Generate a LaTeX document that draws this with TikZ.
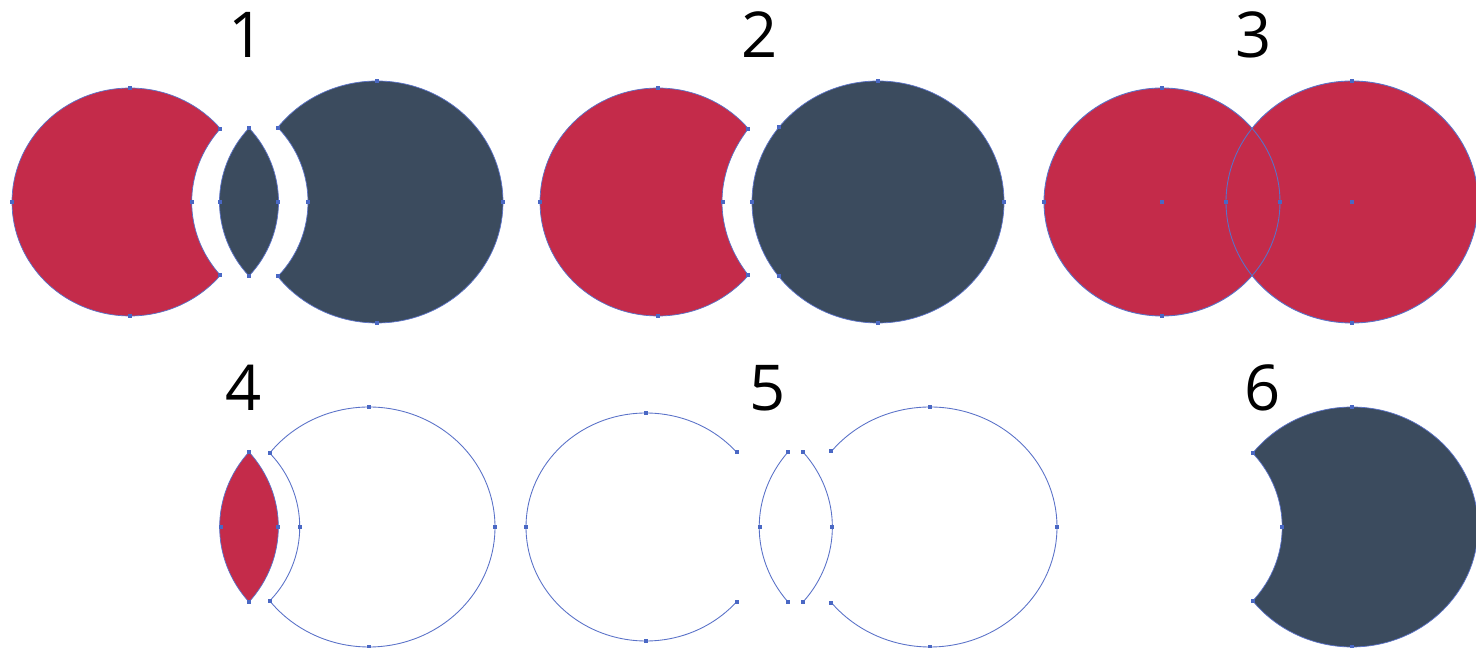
\documentclass[tikz,border=0pt]{standalone}
\usepackage{fontspec}
\newfontfamily\labelfont{Open Sans}
\usetikzlibrary{calc}
\definecolor{crimson}{HTML}{C42B4A}
\definecolor{slate}{HTML}{3B4B5E}
\definecolor{pathblue}{HTML}{5A72C8}
\definecolor{pointblue}{HTML}{4A68C4}
\tikzset{fillred/.style={fill=crimson,draw=pathblue,line width=0.4pt},filldark/.style={fill=slate,draw=pathblue,line width=0.4pt},outline/.style={draw=pathblue,line width=0.5pt},anchorpt/.style={fill=pointblue,inner sep=0pt,minimum size=2.3pt},numlabel/.style={font=\labelfont\fontsize{36}{36}\selectfont,inner sep=0pt}}

\begin{document}
\begin{tikzpicture}[x=0.02cm,y=0.02cm]
\useasboundingbox (0,0) rectangle (1476,648);
% step numbers
\node[numlabel] (n1) at (247,613) {1};
\node[numlabel] (n2) at (760,613) {2};
\node[numlabel] (n3) at (1254,613) {3};
\node[numlabel] (n4) at (244,260) {4};
\node[numlabel] (n5) at (768,260) {5};
\node[numlabel] (n6) at (1263,260) {6};
% 1: red crescent, lens, dark crescent
\coordinate (p1rt) at ($(130,446)+(40:118 and 114)$);
\coordinate (p1lt) at (249,520); \coordinate (p1lb) at (249,372);
\coordinate (p1dt) at ($(377,446)+(142:126 and 121)$);
\path[fillred] (p1rt) arc[start angle=40,end angle=320,x radius=118,y radius=114] to[bend left=42] (p1rt) -- cycle;
\path[filldark] (p1lt) to[bend right=43] (p1lb) to[bend right=43] (p1lt) -- cycle;
\path[filldark] (p1dt) arc[start angle=142,end angle=-142,x radius=126,y radius=121] to[bend right=44] (p1dt) -- cycle;
% 2: red crescent and full dark circle
\coordinate (p2rt) at ($(658,446)+(40:118 and 114)$);
\path[fillred] (p2rt) arc[start angle=40,end angle=320,x radius=118,y radius=114] to[bend left=38] (p2rt) -- cycle;
\path[filldark] (878,446) ellipse[x radius=126,y radius=121];
% 3: two red circles
\path[fill=crimson] (1162,446) ellipse[x radius=118,y radius=114] (1352,446) ellipse[x radius=126,y radius=121];
\draw[outline] (1162,446) ellipse[x radius=118,y radius=114] (1352,446) ellipse[x radius=126,y radius=121];
% 4: red lens and open crescent
\coordinate (p4lt) at (249,196); \coordinate (p4lb) at (249,46);
\path[fillred] (p4lt) to[bend right=42] (p4lb) to[bend right=42] (p4lt) -- cycle;
\coordinate (p4ot) at ($(369,121)+(142:126 and 120)$);
\draw[outline] (p4ot) arc[start angle=142,end angle=-142,x radius=126,y radius=120] to[bend right=44] (p4ot) -- cycle;
% 5: separated outlines
\coordinate (p5at) at ($(646,121)+(41:120 and 114)$);
\draw[outline] (p5at) arc[start angle=41,end angle=319,x radius=120,y radius=114];
\coordinate (p5bt) at (788,196); \coordinate (p5bb) at (788,46);
\coordinate (p5ct) at (803,196); \coordinate (p5cb) at (803,46);
\draw[outline] (p5bt) to[bend right=41] (p5bb);
\draw[outline] (p5ct) to[bend left=42] (p5cb);
\coordinate (p5dt) at ($(930,121)+(141:127 and 120)$);
\draw[outline] (p5dt) arc[start angle=141,end angle=-141,x radius=127,y radius=120];
% 6: dark crescent
\coordinate (p6dt) at ($(1352,121)+(142:126 and 120)$);
\path[filldark] (p6dt) arc[start angle=142,end angle=-142,x radius=126,y radius=120] to[bend right=43] (p6dt) -- cycle;
% anchor points
\foreach \x/\y in {130/560,12/446,130/332,220/519,220/373,192/446,249/520,249/372,220/446,278/446,278/520,278/372,308/446,377/567,503/446,377/325,
  658/560,540/446,658/332,748/519,748/373,723/446,752/446,779/521,779/372,878/567,1004/446,878/325,
  1162/560,1044/446,1162/332,1162/446,1280/446,1226/446,1352/567,1352/325,1352/446,
  249/196,249/46,221/121,278/121,270/195,270/47,300/121,369/241,495/121,369/1,
  646/235,526/121,646/7,737/196,737/46,788/196,788/46,760/121,803/196,803/46,832/121,831/197,831/45,930/241,1057/121,930/1,
  1253/195,1253/47,1282/121,1352/241,1352/1}
  \node[anchorpt] at (\x,\y) {};
\end{tikzpicture}
\end{document}
